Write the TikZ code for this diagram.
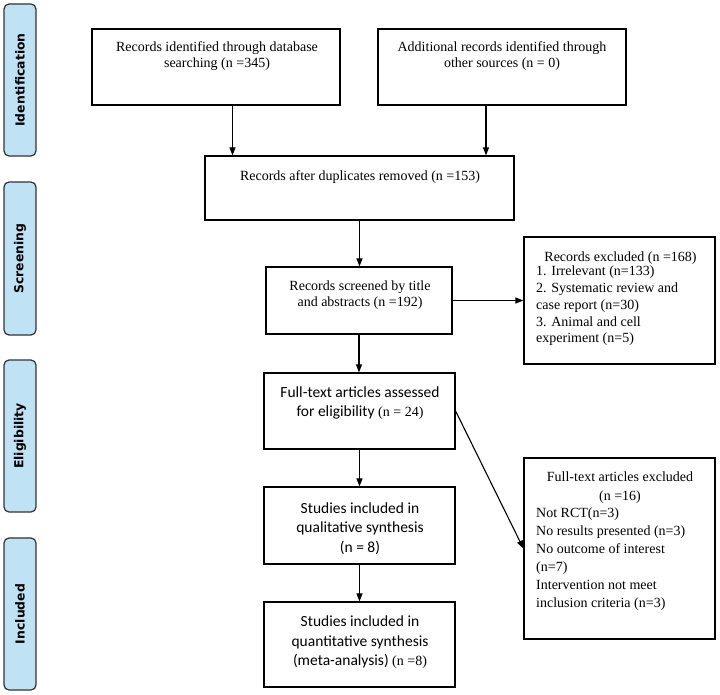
\documentclass[tikz,border=0pt]{standalone}
\usepackage{fontspec}
\setmainfont{Liberation Serif}
\newfontfamily\calib{Carlito}
\newfontfamily\tabfont{DejaVu Sans}
\usetikzlibrary{arrows.meta}
\definecolor{tabblue}{RGB}{192,226,245}
\begin{document}
\begin{tikzpicture}[x=1pt,y=-1pt,
    stage/.style={draw=black!80,fill=tabblue,line width=1.2pt,rounded corners=5pt,
      minimum width=32pt,inner sep=0pt},
    stagetxt/.style={rotate=90,font=\tabfont\bfseries\fontsize{12.4}{14}\selectfont},
    box/.style={draw,line width=1.2pt,inner sep=0pt},
    txt/.style={align=center,inner sep=0pt,font=\fontsize{14}{16.7}\selectfont},
    lst/.style={align=left,inner sep=0pt,anchor=west},
    sans/.style={align=center,inner sep=0pt,font=\calib\fontsize{15.5}{19.5}\selectfont},
    arr/.style={-{Triangle[length=8pt,width=6pt]},line width=1.1pt}]
  \useasboundingbox (0,0) rectangle (720,695);
  % stages on the left
  \node[stage,minimum height=152pt] (ident) at (20,80) {};
  \node[stage,minimum height=153pt] (scrn) at (20,258.5) {};
  \node[stage,minimum height=152pt] (elig) at (20,436) {};
  \node[stage,minimum height=152pt] (incl) at (20,614) {};
  \node[stagetxt] (identtxt) at (ident) {Identification};
  \node[stagetxt] (scrntxt) at (scrn) {Screening};
  \node[stagetxt] (eligtxt) at (elig) {Eligibility};
  \node[stagetxt] (incltxt) at (incl) {Included};
  % boxes
  \node[box,minimum width=248pt,minimum height=76pt] (dbrec) at (216,67) {};
  \node[box,minimum width=248pt,minimum height=76pt] (other) at (502,67) {};
  \node[box,minimum width=309pt,minimum height=64pt] (dups) at (359.5,188) {};
  \node[box,minimum width=186pt,minimum height=67pt] (screen) at (359,300.5) {};
  \node[box,minimum width=191pt,minimum height=127pt] (excl) at (619.5,300.5) {};
  \node[box,minimum width=191pt,minimum height=76pt] (full) at (359.5,411) {};
  \node[box,minimum width=191pt,minimum height=181pt] (fullexcl) at (619.5,548.5) {};
  \node[box,minimum width=191pt,minimum height=77pt] (qual) at (359.5,525.5) {};
  \node[box,minimum width=191pt,minimum height=85pt] (quant) at (359.5,644.5) {};
  % texts
  \node[txt] (dbrectxt) at (217,56) {Records identified through database\\searching (n =345)};
  \node[txt] (othertxt) at (502,56) {Additional records identified through\\other sources (n = 0)};
  \node[txt] (dupstxt) at (360,177) {Records after duplicates removed (n =153)};
  \node[txt] (screentxt) at (360,295) {Records screened by title\\and abstracts (n =192)};
  \node[txt] (excltitle) at (620.5,258) {Records excluded (n =168)};
  \node[txt,lst] (excllist) at (536,306) {1. Irrelevant (n=133)\\2. Systematic review and\\case report (n=30)\\3. Animal and cell\\experiment (n=5)};
  \node[sans] (fulltxt) at (360,403) {Full-text articles assessed\\for eligibility {\rmfamily\fontsize{14}{16}\selectfont(n = 24)}};
  \node[txt,font=\fontsize{14}{19}\selectfont] (fullexcltitle) at (620,487.5) {Full-text articles excluded\\(n =16)};
  \node[txt,lst,font=\fontsize{14}{18}\selectfont] (fullexcllist) at (536,559) {Not RCT(n=3)\\No results presented (n=3)\\No outcome of interest\\(n=7)\\Intervention not meet\\inclusion criteria (n=3)};
  \node[sans] (qualtxt) at (360,528.5) {Studies included in\\qualitative synthesis\\(n = 8)};
  \node[sans] (quanttxt) at (360,642.5) {Studies included in\\quantitative synthesis\\(meta-analysis) {\rmfamily\fontsize{14}{16}\selectfont(n =8)}};
  % arrows
  \draw[arr] ([xshift=16.5pt]dbrec.south) -- ([xshift=16.5pt]dbrec.south |- dups.north);
  \draw[arr] ([xshift=-16pt]other.south) -- ([xshift=-16pt]other.south |- dups.north);
  \draw[arr] (dups.south) -- (dups.south |- screen.north);
  \draw[arr] (screen.east) -- (screen.east -| excl.west);
  \draw[arr] (screen.south) -- (screen.south |- full.north);
  \draw[arr] (full.south) -- (qual.north);
  \draw[arr] (qual.south) -- (quant.north);
  \draw[arr] (full.east) -- (fullexcl.west);
\end{tikzpicture}
\end{document}
